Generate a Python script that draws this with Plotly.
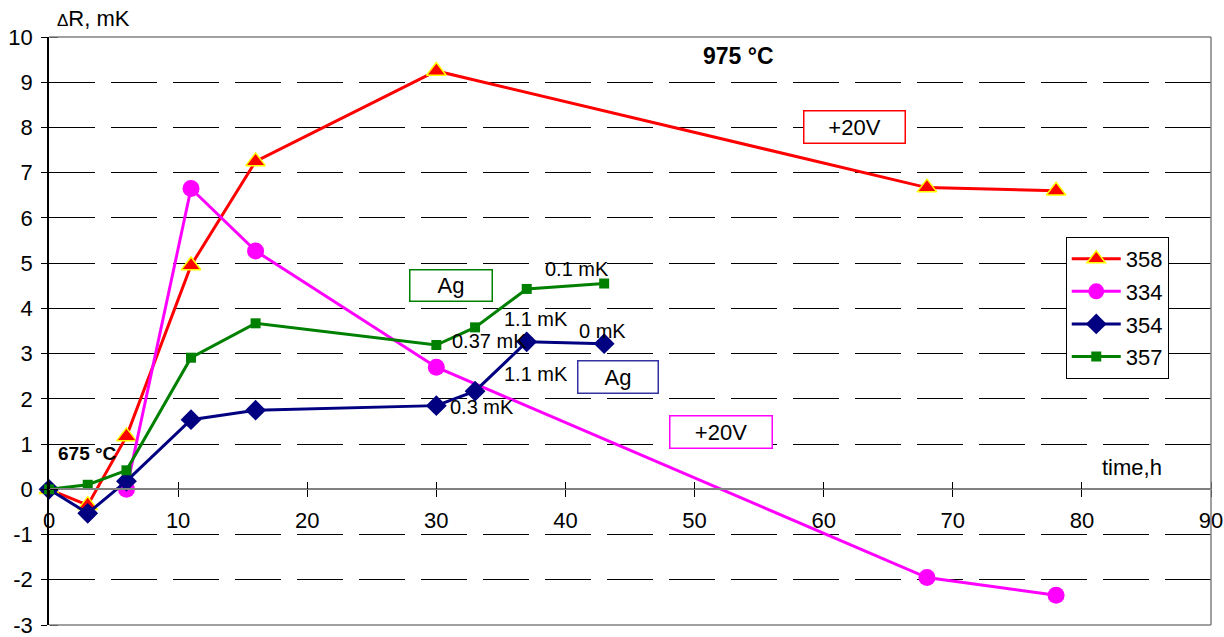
import plotly.graph_objects as go

# ---- data ----
time_358 = [0, 3, 6, 11, 16, 30, 68, 78]
dr_358 = [0, -0.35, 1.17, 4.95, 7.25, 9.25, 6.67, 6.6]

time_334 = [6, 11, 16, 30, 68, 78]
dr_334 = [0.0, 6.65, 5.27, 2.7, -1.95, -2.34]

time_354 = [0, 3, 6, 11, 16, 30, 33, 37, 43]
dr_354 = [0, -0.53, 0.18, 1.54, 1.75, 1.85, 2.17, 3.26, 3.22]

time_357 = [0, 3, 6, 11, 16, 30, 33, 37, 43]
dr_357 = [0, 0.1, 0.42, 2.91, 3.67, 3.19, 3.58, 4.43, 4.55]

x_ticks = [0, 10, 20, 30, 40, 50, 60, 70, 80, 90]
y_ticks = [-3, -2, -1, 0, 1, 2, 3, 4, 5, 6, 7, 8, 9, 10]
y_ticklabels = ["-3", "-2", "-1", "0", "1", "2", "3", "4", "5", "6", "7", "8", "9", "10"]
y_grid = [-2, -1, 1, 2, 3, 4, 5, 6, 7, 8, 9]

FONT = "Liberation Sans, Arial, sans-serif"

fig = go.Figure()

fig.add_trace(go.Scatter(
    x=time_358, y=dr_358, name="358", legendgroup="a", mode="lines+markers",
    line=dict(color="#FF0000", width=3),
    marker=dict(symbol="triangle-up", size=17, color="#FF0000",
                line=dict(color="#FFFF00", width=1.5)),
    cliponaxis=False))
fig.add_trace(go.Scatter(
    x=time_334, y=dr_334, name="334", legendgroup="b", mode="lines+markers",
    line=dict(color="#FF00FF", width=3),
    marker=dict(symbol="circle", size=17, color="#FF00FF"),
    cliponaxis=False))
fig.add_trace(go.Scatter(
    x=time_354, y=dr_354, name="354", legendgroup="c", mode="lines+markers",
    line=dict(color="#000080", width=3),
    marker=dict(symbol="diamond", size=16, color="#000080"),
    cliponaxis=False))
fig.add_trace(go.Scatter(
    x=time_357, y=dr_357, name="357", legendgroup="d", mode="lines+markers",
    line=dict(color="#008000", width=3),
    marker=dict(symbol="square", size=10, color="#008000"),
    cliponaxis=False))

# helper (empty) trace for the crossing tick halves
fig.add_trace(go.Scatter(x=[], y=[], xaxis="x2", yaxis="y2",
                         showlegend=False, hoverinfo="skip"))

zero_pos = (0 - y_ticks[0]) / (y_ticks[-1] - y_ticks[0])

fig.update_layout(
    width=1224, height=637,
    margin=dict(l=49, r=13, t=37, b=12),
    paper_bgcolor="white", plot_bgcolor="white",
    font=dict(family=FONT, size=22, color="black"),
    xaxis=dict(range=[0, 90], tickvals=x_ticks, anchor="free", position=zero_pos,
               ticks="outside", ticklen=7, tickwidth=1.2, tickcolor="black",
               showline=True, linecolor="#808080", linewidth=1.5,
               showgrid=False, zeroline=False, tickfont=dict(size=22),
               ticklabelstandoff=5, automargin=False, ticklabeloverflow="allow"),
    xaxis2=dict(range=[0, 90], tickvals=x_ticks, overlaying="x", anchor="free",
                position=zero_pos, side="top", ticks="outside", ticklen=7,
                tickwidth=1.2, tickcolor="black", showticklabels=False,
                showline=False, showgrid=False, zeroline=False, automargin=False),
    yaxis=dict(range=[-3, 10], tickvals=y_ticks, ticktext=y_ticklabels,
               ticks="outside", ticklen=6,
               tickwidth=1.2, tickcolor="black",
               showline=True, linecolor="black", linewidth=1.8,
               showgrid=False, zeroline=False, tickfont=dict(size=22),
               ticklabelstandoff=4, automargin=False, ticklabeloverflow="allow",
               minor=dict(tickvals=y_grid, showgrid=True, gridcolor="black",
                          gridwidth=1, griddash="46px,16px", ticks="")),
    yaxis2=dict(range=[-3, 10], tickvals=y_ticks, overlaying="y", anchor="free",
                position=0, side="right", ticks="outside", ticklen=8,
                tickwidth=1.2, tickcolor="black", showticklabels=False,
                showline=False, showgrid=False, zeroline=False, automargin=False),
    legend=dict(x=0.875, y=0.66, xanchor="left", yanchor="top",
                bgcolor="white", bordercolor="black", borderwidth=1,
                font=dict(size=22), tracegroupgap=1, itemwidth=49),
    showlegend=True,
)

# plot-area border (gray) on top, right, bottom
for x0, y0, x1, y1 in [(0, 1, 1, 1), (1, 0, 1, 1), (0, 0, 1, 0)]:
    fig.add_shape(type="line", xref="paper", yref="paper", x0=x0, y0=y0, x1=x1, y1=y1,
                  line=dict(color="#808080", width=1.5), layer="above")

def txt(x, y, s, size=22, bold=False, **kw):
    fig.add_annotation(x=x, y=y, xref="x", yref="y", text=("<b>%s</b>" % s) if bold else s,
                       showarrow=False, font=dict(size=size, family=FONT, color="black"), **kw)

def boxed(x, y, s, color, w, h):
    fig.add_annotation(x=x, y=y, xref="x", yref="y", text=s, showarrow=False,
                       font=dict(size=22, family=FONT, color="black"),
                       bordercolor=color, borderwidth=1.5, bgcolor="white",
                       width=w, height=h, borderpad=1)

fig.add_annotation(x=0.0714, y=1.032, xref="paper", yref="paper",
                   text="<span style='font-size:17px'>Δ</span>R, mK",
                   xanchor="right", yanchor="middle",
                   showarrow=False, font=dict(size=22, family=FONT, color="black"))
txt(53.4, 9.58, "975 °C", bold=True, size=23)
txt(3.0, 0.79, "675 °C", bold=True, size=19)
txt(83.9, 0.49, "time,h")

boxed(62.4, 8.01, "+20V", "#FF0000", 98, 29)
boxed(52.05, 1.26, "+20V", "#FF00FF", 99, 29)
boxed(31.14, 4.50, "Ag", "#008000", 79, 28)
boxed(44.07, 2.49, "Ag", "#3333A0", 77, 29)

txt(40.9, 4.88, "0.1 mK", size=20)
txt(37.7, 3.77, "1.1 mK", size=20)
txt(42.9, 3.51, "0 mK", size=20)
txt(34.1, 3.27, "0.37 mK", size=20)
txt(37.7, 2.56, "1.1 mK", size=20)
txt(33.5, 1.83, "0.3 mK", size=20)

fig.write_html("out.html", config={"displayModeBar": False},
               post_script="document.body.style.margin='0';document.body.style.overflow='hidden';")
